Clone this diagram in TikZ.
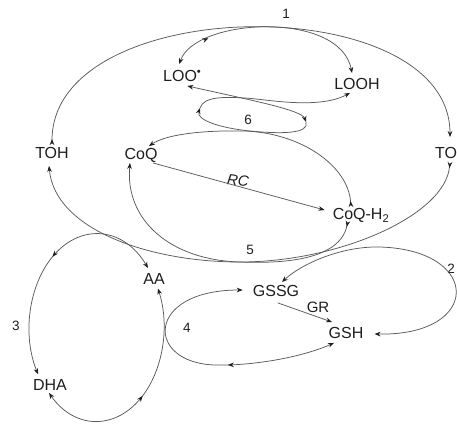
\documentclass[tikz,border=0pt]{standalone}
\usepackage{fontspec}
\setmainfont{Liberation Sans}
\usetikzlibrary{arrows.meta,decorations.markings}
\definecolor{lncol}{HTML}{5A5A5A}
\definecolor{txcol}{HTML}{1E1E1E}
\definecolor{tipcol}{HTML}{1E1E1E}
\tikzset{
  tp/.tip={Stealth[length=6pt,width=4.6pt,color=tipcol]},
  rtp/.tip={Stealth[reversed,length=6pt,width=4.6pt,color=tipcol]},
  ln/.style={draw=lncol, line width=0.75pt},
  lbl/.style={font=\fontsize{16}{18}\selectfont, text=txcol, inner sep=2pt, text height=11.5pt, text depth=0pt},
  num/.style={font=\fontsize{13.5}{16}\selectfont, text=txcol, inner sep=1pt},
  midtip/.style={postaction={decorate, decoration={markings, mark=at position #1 with {\arrow{Stealth[length=6pt,width=4.6pt,color=tipcol]}}}}},
}
\begin{document}
\begin{tikzpicture}[x=1pt,y=-1pt]
\useasboundingbox[fill=white] (0,0) rectangle (457,423);
% nodes
\node[num] (n1) at (286,14) {1};
\node[lbl, anchor=west] (LOO) at (161,76) {LOO\textsuperscript{•}};
\node[lbl] (LOOH) at (357,84) {LOOH};
\node[lbl] (TOH) at (52,153) {TOH};
\node[lbl] (CoQ) at (141,154) {CoQ};
\node[lbl] (TO) at (446,153) {TO};
\node[num] (n6) at (248,120) {6};
\node[lbl, font=\fontsize{15}{18}\selectfont\itshape, rotate=-7] (RC) at (238,180) {RC};
\node[lbl] (CoQH) at (361,214) {CoQ-H\textsubscript{2}};
\node[num] (n5) at (250,250) {5};
\node[num] (n2) at (451,269) {2};
\node[num] (n3) at (16,326) {3};
\node[lbl] (AA) at (154,279) {AA};
\node[num] (n4) at (187,328) {4};
\node[lbl] (GSSG) at (276,291) {GSSG};
\node[lbl, font=\fontsize{15}{18}\selectfont] (GR) at (318,307) {GR};
\node[lbl] (GSH) at (346,333) {GSH};
\node[lbl] (DHA) at (50,385) {DHA};
% cycle 1: TOH -> TO (top)
\draw[ln, arrows={rtp-tp}] (TOH.north) .. controls (52,-8) and (450,-12) .. ([shift={(4,-8)}]TO.north);
% cycle 5 outer: TO -> TOH
\draw[ln, arrows={rtp-tp}] ([shift={(4,1)}]TO.south) .. controls (445,215) and (340,262) .. (240,262) .. controls (150,262) and (55,230) .. ([shift={(-3,5)}]TOH.south);
% cycle 1: LOO -> LOOH (top)
\draw[ln, arrows={tp-tp}, midtip=40pt] ([shift={(-3,-4)}]LOO.north) .. controls (195,18) and (340,10) .. ([shift={(-5,-3)}]LOOH.north);
% cycle 6: LOO -> loop -> LOOH
\coordinate (L6r) at (306,122);
\coordinate (L6l) at (200,108);
\draw[ln, arrows={tp-tp}] ([shift={(5,2)}]LOO.south) .. controls (250,100) and (302,110) .. (L6r);
\draw[ln, arrows={-tp}] (L6r) .. controls (310,134) and (280,134) .. (250,131) .. controls (220,128) and (196,120) .. (L6l);
\draw[ln, arrows={-tp}] (L6l) .. controls (204,96) and (225,97) .. (245,98) .. controls (265,99) and (318,110) .. ([shift={(-7,1)}]LOOH.south);
% cycle 6: CoQ-H2 -> CoQ
\draw[ln, arrows={rtp-tp}] ([shift={(-10,1)}]CoQH.north) .. controls (348,165) and (300,133) .. (245,131) .. controls (200,130) and (165,135) .. ([shift={(8,0)}]CoQ.north);
% cycle 5 inner: CoQ-H2 -> CoQ
\draw[ln, arrows={rtp-tp}] ([shift={(-13,-1)}]CoQH.south) .. controls (340,258) and (290,264) .. (240,262) .. controls (170,260) and (125,220) .. ([shift={(-11,1)}]CoQ.south);
% RC
\draw[ln, arrows={-tp}] ([shift={(12,1)}]CoQ.south) -- ([shift={(-6,-4)}]CoQH.west);
% GR
\draw[ln, arrows={-tp}] ([shift={(2,4)}]GSSG.south) -- ([shift={(-14,-3)}]GSH.north);
% cycle 2
\draw[ln, arrows={tp-tp}] ([shift={(9,1)}]GSH.east) .. controls (482,336) and (482,250) .. (380,247) .. controls (340,246) and (300,265) .. ([shift={(6,-1)}]GSSG.north);
% cycle 4
\draw[ln, arrows={tp-tp}, midtip=109pt] ([shift={(-12,2)}]GSH.south) .. controls (300,358) and (250,366) .. (215,365) .. controls (145,363) and (145,290) .. ([shift={(-8,-1)}]GSSG.west);
% cycle 3
\draw[ln, arrows={tp-tp}, midtip=116pt] ([shift={(-6,-3)}]AA.north) arc[start angle=-39.5, end angle=-209.6, x radius=67, y radius=94];
\draw[ln, arrows={tp-tp}, midtip=112pt] ([shift={(-1,0)}]DHA.south) arc[start angle=135.6, end angle=-24.3, x radius=67, y radius=94];
\end{tikzpicture}
\end{document}
